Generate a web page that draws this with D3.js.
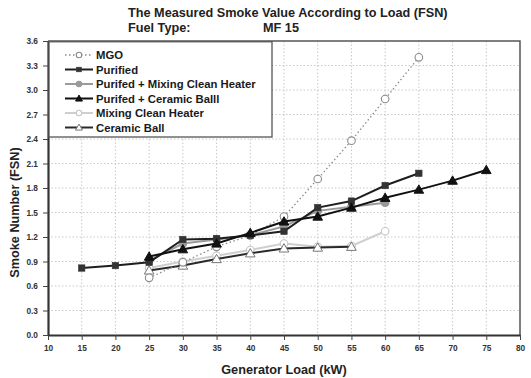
<!DOCTYPE html>
<html>
<head>
<meta charset="utf-8">
<script src="https://cdn.jsdelivr.net/npm/d3@7"></script>
<style>
  html, body { margin: 0; padding: 0; background: #fff; }
  svg { display: block; font-family: "Liberation Sans", Arial, sans-serif; }
</style>
</head>
<body>
<svg id="chart" width="531" height="378"></svg>
<script>
// Generator load (kW) axis ticks and smoke number (FSN) ticks
const xTicks = [10, 15, 20, 25, 30, 35, 40, 45, 50, 55, 60, 65, 70, 75, 80];
const yTicks = [0.0, 0.3, 0.6, 0.9, 1.2, 1.5, 1.8, 2.1, 2.4, 2.7, 3.0, 3.3, 3.6];

// Measured smoke values per fuel treatment
const loadMGO = [25, 30, 35, 40, 45, 50, 55, 60, 65];
const smokeMGO = [0.70, 0.89, 1.08, 1.22, 1.45, 1.91, 2.38, 2.89, 3.40];

const loadPurified = [15, 20, 25, 30, 35, 40, 45, 50, 55, 60, 65];
const smokePurified = [0.82, 0.85, 0.89, 1.17, 1.18, 1.22, 1.27, 1.56, 1.64, 1.83, 1.98];

const loadPurMix = [25, 30, 35, 40, 45, 50, 55, 60];
const smokePurMix = [0.91, 1.12, 1.17, 1.22, 1.33, 1.52, 1.57, 1.62];

const loadPurCer = [25, 30, 35, 40, 45, 50, 55, 60, 65, 70, 75];
const smokePurCer = [0.96, 1.05, 1.12, 1.25, 1.39, 1.45, 1.56, 1.68, 1.78, 1.89, 2.02];

const loadMix = [25, 30, 35, 40, 45, 50, 55, 60];
const smokeMix = [0.82, 0.90, 0.97, 1.04, 1.12, 1.08, 1.09, 1.27];

const loadCer = [25, 30, 35, 40, 45, 50, 55];
const smokeCer = [0.79, 0.85, 0.93, 1.00, 1.06, 1.07, 1.08];

const seriesNames = ["MGO", "Purified", "Purifed + Mixing Clean Heater", "Purifed + Ceramic Balll", "Mixing Clean Heater", "Ceramic Ball"];

const series = [
  { name: seriesNames[0], xs: loadMGO, ys: smokeMGO, stroke: "#8a8a8a", width: 1.3, dash: "1.5,2.5", marker: "circle", fill: "#fff", mstroke: "#8a8a8a" },
  { name: seriesNames[1], xs: loadPurified, ys: smokePurified, stroke: "#1e1e1e", width: 2, dash: null, marker: "square", fill: "#333", mstroke: "#333" },
  { name: seriesNames[2], xs: loadPurMix, ys: smokePurMix, stroke: "#9a9a9a", width: 2, dash: null, marker: "circle", fill: "#9a9a9a", mstroke: "#9a9a9a" },
  { name: seriesNames[3], xs: loadPurCer, ys: smokePurCer, stroke: "#111", width: 2, dash: null, marker: "triangle", fill: "#111", mstroke: "#111" },
  { name: seriesNames[4], xs: loadMix, ys: smokeMix, stroke: "#cfcfcf", width: 2, dash: null, marker: "circle", fill: "#fff", mstroke: "#c4c4c4" },
  { name: seriesNames[5], xs: loadCer, ys: smokeCer, stroke: "#2a2a2a", width: 2, dash: null, marker: "triangle", fill: "#fff", mstroke: "#777" }
];

const drawOrder = [4, 5, 2, 0, 1, 3];

const svg = d3.select("#chart");
const m = { left: 48, right: 11, top: 41, bottom: 43 };
const W = 531, H = 378;

const x = d3.scaleLinear().domain([10, 80]).range([m.left, W - m.right]);
const y = d3.scaleLinear().domain([0, 3.6]).range([H - m.bottom, m.top]);

// Titles
const titleSize = 12.7;
svg.append("text").attr("x", 128).attr("y", 17)
  .attr("font-size", titleSize).attr("font-weight", "bold").attr("fill", "#222")
  .text("The Measured Smoke Value According to Load (FSN)");
svg.append("text").attr("x", 128).attr("y", 32)
  .attr("font-size", titleSize).attr("font-weight", "bold").attr("fill", "#222")
  .text("Fuel Type:");
svg.append("text").attr("x", 263).attr("y", 32)
  .attr("font-size", titleSize).attr("font-weight", "bold").attr("fill", "#222")
  .text("MF 15");

// Grid
const grid = svg.append("g");
grid.selectAll("line.v").data(xTicks.slice(1, -1)).join("line")
  .attr("x1", d => x(d)).attr("x2", d => x(d))
  .attr("y1", y(3.6)).attr("y2", y(0))
  .attr("stroke", "#c8c8c8").attr("stroke-width", 1).attr("stroke-dasharray", "1.5,2");
grid.selectAll("line.h").data(yTicks.slice(1, -1)).join("line")
  .attr("y1", d => y(d)).attr("y2", d => y(d))
  .attr("x1", x(10)).attr("x2", x(80))
  .attr("stroke", "#c8c8c8").attr("stroke-width", 1).attr("stroke-dasharray", "1.5,2");

// Frame: top and right
svg.append("path")
  .attr("d", `M${x(10)},${y(3.6)}H${x(80)}V${y(0)}`)
  .attr("fill", "none").attr("stroke", "#555").attr("stroke-width", 1.5);

// Axes
const xAxis = d3.axisBottom(x).tickValues(xTicks).tickSize(5).tickSizeOuter(0).tickFormat(d3.format("d"));
const yAxis = d3.axisLeft(y).tickValues(yTicks).tickSize(5).tickSizeOuter(0).tickFormat(d3.format(".1f"));

const gx = svg.append("g").attr("transform", `translate(0,${y(0)})`).call(xAxis);
const gy = svg.append("g").attr("transform", `translate(${x(10)},0)`).call(yAxis);
[gx, gy].forEach(g => {
  g.select(".domain").attr("stroke", "#333").attr("stroke-width", 2.2);
  g.selectAll(".tick line").attr("stroke", "#444").attr("stroke-width", 1);
  g.selectAll(".tick text").attr("font-size", 8.3).attr("font-weight", "bold").attr("fill", "#333")
    .attr("font-family", "'Liberation Sans', Arial, sans-serif");
});
gx.selectAll(".tick text").attr("dy", "0.95em");
gy.selectAll(".tick text").attr("dx", "-2");

// Axis titles
svg.append("text").attr("x", (x(10) + x(80)) / 2).attr("y", 374)
  .attr("text-anchor", "middle").attr("font-size", titleSize).attr("font-weight", "bold").attr("fill", "#222")
  .text("Generator Load (kW)");
svg.append("text").attr("transform", `translate(19,${y(1.5)}) rotate(-90)`)
  .attr("text-anchor", "middle").attr("font-size", titleSize).attr("font-weight", "bold").attr("fill", "#222")
  .text("Smoke Number (FSN)");

// Marker drawing helper; k scales the marker size
function drawMarker(g, s, cx, cy, k = 1) {
  if (s.marker === "circle") {
    g.append("circle").attr("cx", cx).attr("cy", cy).attr("r", 3.8 * k)
      .attr("fill", s.fill).attr("stroke", s.mstroke).attr("stroke-width", 1.1);
  } else if (s.marker === "square") {
    g.append("rect").attr("x", cx - 3.2 * k).attr("y", cy - 3.2 * k).attr("width", 6.4 * k).attr("height", 6.4 * k)
      .attr("fill", s.fill).attr("stroke", s.mstroke).attr("stroke-width", 0.6);
  } else {
    const sym = d3.symbol().type(d3.symbolTriangle).size(40 * k * k);
    g.append("path").attr("d", sym()).attr("transform", `translate(${cx},${cy + 0.8 * k})`)
      .attr("fill", s.fill).attr("stroke", s.mstroke).attr("stroke-width", 1);
  }
}

// Series lines and markers
const line = d3.line().x(d => x(d[0])).y(d => y(d[1]));
const plot = svg.append("g");
drawOrder.forEach(i => {
  const s = series[i];
  const pts = s.xs.map((v, k) => [v, s.ys[k]]);
  const g = plot.append("g");
  g.append("path").attr("d", line(pts)).attr("fill", "none")
    .attr("stroke", s.stroke).attr("stroke-width", s.width)
    .attr("stroke-dasharray", s.dash);
  pts.forEach(p => drawMarker(g, s, x(p[0]), y(p[1])));
});

// Legend
const lg = svg.append("g");
lg.append("rect").attr("x", x(10) + 1).attr("y", y(3.6) + 0.75)
  .attr("width", 272 - x(10) - 1).attr("height", 137 - y(3.6) - 0.75)
  .attr("fill", "#fff").attr("stroke", "#555").attr("stroke-width", 1.3);
series.forEach((s, i) => {
  const cy = 55 + i * 14.5;
  lg.append("line").attr("x1", 65).attr("x2", 93).attr("y1", cy).attr("y2", cy)
    .attr("stroke", s.stroke).attr("stroke-width", s.width).attr("stroke-dasharray", s.dash);
  drawMarker(lg, s, 79, cy, 0.72);
  lg.append("text").attr("x", 96).attr("y", cy + 4)
    .attr("font-size", 11.3).attr("font-weight", "bold").attr("fill", "#1a1a1a")
    .text(s.name);
});
</script>
</body>
</html>
